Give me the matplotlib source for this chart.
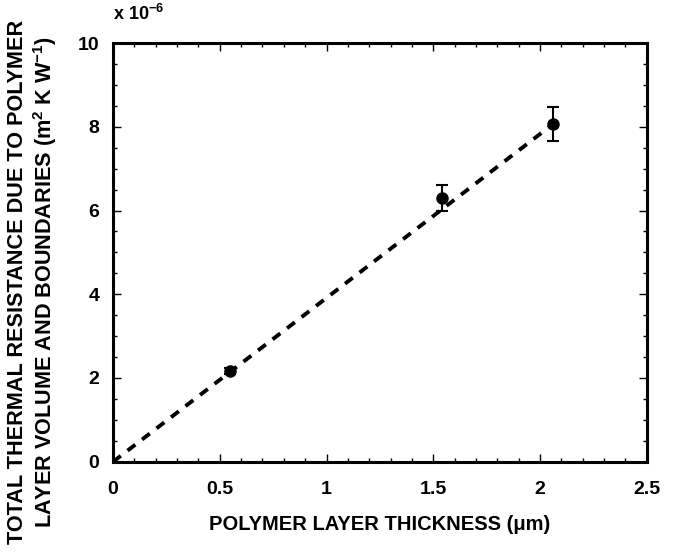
import matplotlib
matplotlib.use("Agg")
import matplotlib.pyplot as plt

plt.rcParams['font.family'] = ['Liberation Sans', 'DejaVu Sans']
plt.rcParams['font.weight'] = 'bold'
plt.rcParams['mathtext.fontset'] = 'custom'
plt.rcParams['mathtext.rm'] = 'Liberation Sans:bold'
plt.rcParams['mathtext.default'] = 'rm'

# data (resistance in units of 1e-6 m^2 K/W)
thickness = [0.55, 1.54, 2.06]
resistance = [2.17, 6.30, 8.07]
err = [0.08, 0.30, 0.40]
fit_x = [0.0, 2.07]
fit_y = [0.0, 8.10]

fig = plt.figure(figsize=(6.73, 5.59), dpi=100)
ax = fig.add_axes([0.168, 0.174, 0.793, 0.749])

ax.plot(fit_x, fit_y, color='black', linestyle=(0, (2.5, 2.2)), linewidth=2.8)
ax.errorbar(thickness, resistance, yerr=err, fmt='o', color='black',
            markersize=8, capsize=4, elinewidth=1.5, capthick=1.5)

ax.set_xlim(0, 2.5)
ax.set_ylim(0, 10)
ax.set_xticks([0, 0.5, 1, 1.5, 2, 2.5])
ax.set_xticklabels(['0', '0.5', '1', '1.5', '2', '2.5'])
ax.set_yticks([0, 2, 4, 6, 8, 10])
ax.set_xticks([i * 0.1 for i in range(26)], minor=True)
ax.set_yticks([i * 0.5 for i in range(21)], minor=True)
ax.tick_params(which='both', direction='in', top=True, right=True, labelsize=14)
ax.tick_params(axis='x', pad=14)
ax.tick_params(axis='y', pad=10)
ax.tick_params(which='major', length=6, width=1)
ax.tick_params(which='minor', length=3, width=1)
for s in ax.spines.values():
    s.set_linewidth(2.2)

ax.set_xlabel('POLYMER LAYER THICKNESS (\u03bcm)', fontsize=14.5, fontweight='bold', labelpad=12)
ax.set_ylabel('TOTAL THERMAL RESISTANCE DUE TO POLYMER\nLAYER VOLUME AND BOUNDARIES (m$^2$ K W$^{-1}$)',
              fontsize=15.6, fontweight='bold', linespacing=1.15)
ax.yaxis.set_label_coords(-0.102, 0.43)
ax.text(0.0, 1.045, 'x 10$^{-6}$', transform=ax.transAxes, fontsize=13, fontweight='bold',
        ha='left', va='bottom')

fig.savefig('out.png', dpi=100)
